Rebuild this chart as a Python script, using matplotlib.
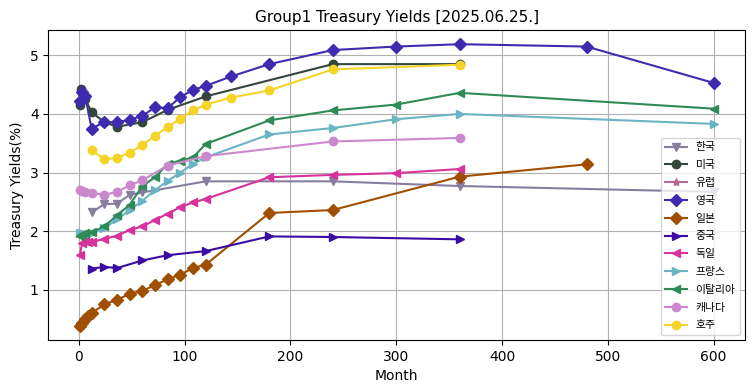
import matplotlib
matplotlib.use("Agg")
import matplotlib.pyplot as plt

plt.rcParams['font.family'] = ['DejaVu Sans', 'Noto Sans CJK KR']

title = "Group1 Treasury Yields [2025.06.25.]"

korea_m = [12, 24, 36, 48, 60, 120, 240, 360, 600]
korea_y = [2.32, 2.46, 2.47, 2.62, 2.66, 2.85, 2.85, 2.77, 2.67]

us_m = [1, 2, 3, 6, 12, 24, 36, 60, 84, 120, 240, 360]
us_y = [4.15, 4.43, 4.35, 4.25, 4.03, 3.86, 3.78, 3.86, 4.07, 4.30, 4.85, 4.85]

eu_m = []
eu_y = []

uk_m = [1, 3, 6, 12, 24, 36, 48, 60, 72, 84, 96, 108, 120, 144, 180, 240, 300, 360, 480, 600]
uk_y = [4.22, 4.37, 4.30, 3.75, 3.86, 3.86, 3.90, 3.97, 4.11, 4.10, 4.29, 4.41, 4.48, 4.64, 4.85, 5.09, 5.15, 5.19, 5.15, 4.53]

jp_m = [1, 3, 6, 9, 12, 24, 36, 48, 60, 72, 84, 96, 108, 120, 180, 240, 360, 480]
jp_y = [0.38, 0.44, 0.50, 0.55, 0.60, 0.75, 0.83, 0.93, 0.98, 1.08, 1.18, 1.26, 1.37, 1.43, 2.31, 2.36, 2.93, 3.14]

cn_m = [12, 24, 36, 60, 84, 120, 180, 240, 360]
cn_y = [1.36, 1.39, 1.37, 1.50, 1.59, 1.66, 1.91, 1.90, 1.86]

de_m = [1, 3, 6, 9, 12, 24, 36, 48, 60, 72, 84, 96, 108, 120, 180, 240, 300, 360]
de_y = [1.60, 1.80, 1.84, 1.82, 1.81, 1.87, 1.92, 2.02, 2.08, 2.19, 2.30, 2.41, 2.49, 2.55, 2.92, 2.96, 2.99, 3.06]

fr_m = [1, 3, 6, 12, 24, 36, 48, 60, 72, 84, 96, 108, 120, 180, 240, 300, 360, 600]
fr_y = [1.97, 1.96, 1.95, 1.96, 2.05, 2.20, 2.36, 2.52, 2.70, 2.86, 3.00, 3.15, 3.26, 3.65, 3.76, 3.91, 4.00, 3.83]

it_m = [1, 3, 6, 12, 24, 36, 48, 60, 72, 84, 96, 108, 120, 180, 240, 300, 360, 600]
it_y = [1.92, 1.95, 1.96, 1.98, 2.08, 2.27, 2.45, 2.77, 2.92, 3.15, 3.20, 3.26, 3.49, 3.89, 4.06, 4.16, 4.36, 4.09]

ca_m = [1, 3, 6, 12, 24, 36, 48, 60, 84, 120, 240, 360]
ca_y = [2.70, 2.68, 2.67, 2.65, 2.62, 2.67, 2.78, 2.87, 3.12, 3.28, 3.53, 3.59]

au_m = [12, 24, 36, 48, 60, 72, 84, 96, 108, 120, 144, 180, 240, 360]
au_y = [3.38, 3.23, 3.25, 3.34, 3.47, 3.63, 3.78, 3.92, 4.06, 4.16, 4.28, 4.40, 4.76, 4.84]

series = [
    ("한국", korea_m, korea_y, "#877d9e", "v"),
    ("미국", us_m, us_y, "#34463a", "o"),
    ("유럽", eu_m, eu_y, "#b56a98", "*"),
    ("영국", uk_m, uk_y, "#3f2bb0", "D"),
    ("일본", jp_m, jp_y, "#a04f00", "D"),
    ("중국", cn_m, cn_y, "#3a0ca3", ">"),
    ("독일", de_m, de_y, "#d6339c", "<"),
    ("프랑스", fr_m, fr_y, "#6ab4c4", ">"),
    ("이탈리아", it_m, it_y, "#2e8b57", "<"),
    ("캐나다", ca_m, ca_y, "#cc88cc", "o"),
    ("호주", au_m, au_y, "#f5d327", "o"),
]

fig = plt.figure(figsize=(7.55, 3.91), dpi=100)
ax = fig.add_axes([0.064, 0.130, 0.923, 0.793])
for name, m, y, c, mk in series:
    ax.plot(m, y, color=c, marker=mk, label=name)

ax.set_title(title, fontsize=11)
ax.set_xlabel("Month")
ax.set_ylabel("Treasury Yields(%)")
ax.grid(True)
ax.set_xticks([0, 100, 200, 300, 400, 500, 600])
ax.set_yticks([1, 2, 3, 4, 5])
ax.legend(loc="lower right", labelspacing=0.72, handlelength=2.0,
          prop={'family': ['Noto Sans CJK KR', 'DejaVu Sans'], 'size': 7.8})
fig.savefig("out.png", dpi=100)
